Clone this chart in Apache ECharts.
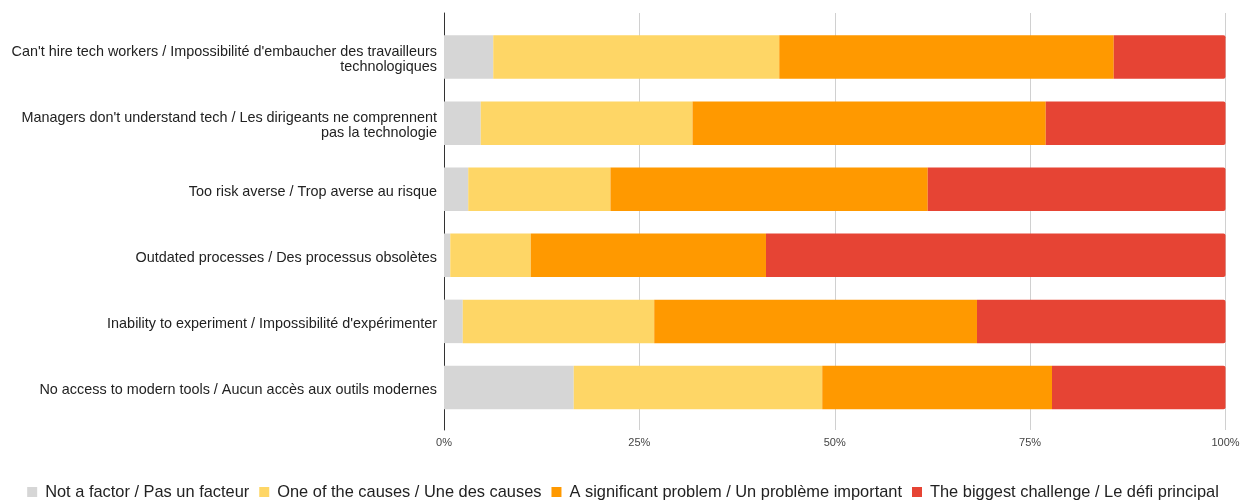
<!DOCTYPE html>
<html>
<head>
<meta charset="utf-8">
<script src="https://cdn.jsdelivr.net/npm/echarts@6/dist/echarts.min.js"></script>
<style>
  html, body { margin: 0; padding: 0; background: #fff; }
  #chart { width: 1246px; height: 500px; }
</style>
</head>
<body>
<div id="chart"></div>
<script>
// Barriers, top to bottom
const categories = [
  "Can't hire tech workers / Impossibilité d'embaucher des travailleurs\ntechnologiques",
  "Managers don't understand tech / Les dirigeants ne comprennent\npas la technologie",
  "Too risk averse / Trop averse au risque",
  "Outdated processes / Des processus obsolètes",
  "Inability to experiment / Impossibilité d'expérimenter",
  "No access to modern tools / Aucun accès aux outils modernes"
];

// Share of responses (%) per answer
const notAFactor   = [6.3, 4.7, 3.1, 0.8, 2.4, 16.6];
const oneOfCauses  = [36.6, 27.1, 18.2, 10.3, 24.5, 31.8];
const significant  = [42.8, 45.2, 40.6, 30.1, 41.3, 29.4];
const biggest      = [14.3, 23.0, 38.1, 58.8, 31.8, 22.2];

const seriesNames = [
  "Not a factor / Pas un facteur",
  "One of the causes / Une des causes",
  "A significant problem / Un problème important",
  "The biggest challenge / Le défi principal"
];
const seriesColors = ['#d6d6d6', '#fed666', '#ff9900', '#e64434'];
const seriesValues = [notAFactor, oneOfCauses, significant, biggest];

const xTicks = [0, 25, 50, 75, 100];

const FONT = "'Liberation Sans', Arial, Helvetica, sans-serif";

const chart = echarts.init(document.getElementById('chart'), null, { renderer: 'canvas' });

chart.setOption({
  animation: false,
  backgroundColor: '#ffffff',
  textStyle: { fontFamily: FONT },
  grid: [
    // frame for gridlines and baseline
    { left: 444, right: 20.5, top: 13, bottom: 70 },
    // bars
    { left: 444, right: 20.5, top: 24, bottom: 79.5 },
    // category labels, sitting slightly below the bar centres
    { left: 444, right: 20.5, top: 26.5, bottom: 77 }
  ],
  xAxis: [
    {
      gridIndex: 0, type: 'value', min: xTicks[0], max: xTicks[xTicks.length - 1], interval: 25,
      axisLine: { show: false }, axisTick: { show: false },
      splitLine: { show: true, lineStyle: { color: '#d0d0d0', width: 1 } },
      axisLabel: { formatter: '{value}%', color: '#444', fontSize: 11, fontFamily: FONT, margin: 7 }
    },
    { gridIndex: 1, type: 'value', min: 0, max: 100, show: false },
    { gridIndex: 2, type: 'value', min: 0, max: 100, show: false }
  ],
  yAxis: [
    {
      gridIndex: 0, type: 'value', min: 0, max: 1,
      axisLine: { show: true, lineStyle: { color: '#333', width: 1 } },
      axisTick: { show: false }, axisLabel: { show: false }, splitLine: { show: false }
    },
    {
      gridIndex: 1, type: 'category', data: categories, inverse: true,
      axisLine: { show: false }, axisTick: { show: false }, splitLine: { show: false },
      axisLabel: { show: false }
    },
    {
      gridIndex: 2, type: 'category', data: categories, inverse: true,
      axisLine: { show: false }, axisTick: { show: false }, splitLine: { show: false },
      axisLabel: {
        color: '#222', fontSize: 14.4, fontFamily: FONT, lineHeight: 15,
        align: 'right', margin: 7
      }
    }
  ],
  legend: {
    data: seriesNames,
    left: 'center',
    top: 479,
    icon: 'rect',
    itemWidth: 10,
    itemHeight: 10,
    itemGap: 10,
    textStyle: { color: '#222', fontSize: 16.4, fontFamily: FONT, padding: [0, 0, 0, 3] }
  },
  series: seriesNames.map((name, i) => ({
    name: name,
    type: 'bar',
    stack: 'total',
    xAxisIndex: 1,
    yAxisIndex: 1,
    barWidth: 43.5,
    itemStyle: {
      color: seriesColors[i],
      borderRadius: i === seriesNames.length - 1 ? [0, 2, 2, 0] : 0
    },
    data: seriesValues[i]
  }))
});
</script>
</body>
</html>
